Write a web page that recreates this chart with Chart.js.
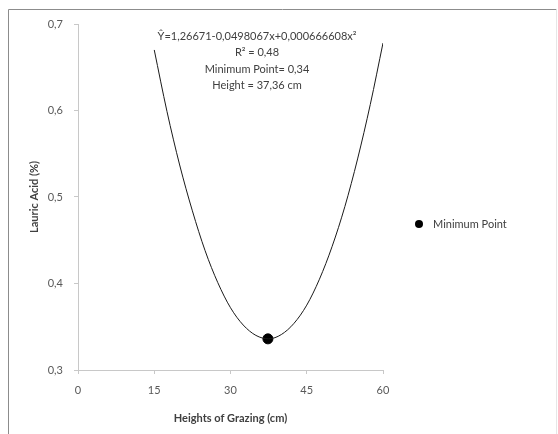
<!DOCTYPE html>
<html>
<head>
<meta charset="utf-8">
<script src="https://cdn.jsdelivr.net/npm/chart.js@4"></script>
<style>
  html, body { margin: 0; padding: 0; background: #fff; }
  #wrap { width: 558px; height: 434px; }
</style>
</head>
<body>
<div id="wrap"><canvas id="chart" width="558" height="434"></canvas></div>
<script>
// Curve (heights of grazing, cm -> lauric acid, %)
const heights = [15, 17.5, 20, 22.5, 25, 27.5, 30, 32.5, 35, 37.5, 40, 42.5, 45, 47.5, 50, 52.5, 55, 57.5, 60];
const lauric = [0.670, 0.599, 0.537, 0.484, 0.438, 0.401, 0.372, 0.352, 0.340, 0.336, 0.341, 0.354, 0.375, 0.405, 0.443, 0.489, 0.544, 0.607, 0.678];

// Minimum point
const minX = [37.36];
const minY = [0.336];

const xTicks = [0, 15, 30, 45, 60];
const equationLines = [
  "Ŷ=1,26671-0,0498067x+0,000666608x²",
  "R² = 0,48",
  "Minimum Point= 0,34",
  "Height = 37,36 cm"
];

const FONT = "Lato, 'Open Sans', sans-serif";

// frame, equation text and legend
const extras = {
  id: 'extras',
  beforeDraw(chart) {
    const ctx = chart.ctx;
    ctx.save();
    ctx.lineWidth = 1;
    ctx.strokeStyle = '#8c8c8c';
    ctx.beginPath();
    ctx.moveTo(8.5, 440);
    ctx.lineTo(8.5, 9.5);
    ctx.lineTo(556.5, 9.5);
    ctx.stroke();
    ctx.strokeStyle = '#e6e6e6';
    ctx.beginPath();
    ctx.moveTo(556.5, 9.5);
    ctx.lineTo(556.5, 440);
    ctx.stroke();
    ctx.restore();
  },
  afterDraw(chart) {
    const ctx = chart.ctx;
    ctx.save();
    ctx.fillStyle = '#404040';
    ctx.font = '11px ' + FONT;
    ctx.textAlign = 'center';
    ctx.textBaseline = 'middle';
    equationLines.forEach((t, i) => ctx.fillText(t, 257, 36 + i * 16.5));

    // legend
    ctx.fillStyle = '#000';
    ctx.beginPath();
    ctx.arc(419, 224, 4, 0, Math.PI * 2);
    ctx.fill();
    ctx.fillStyle = '#404040';
    ctx.textAlign = 'left';
    ctx.fillText('Minimum Point', 433, 224);
    ctx.restore();
  }
};

new Chart(document.getElementById('chart'), {
  type: 'scatter',
  data: {
    datasets: [
      {
        label: 'Curve',
        data: heights.map((h, i) => ({ x: h, y: lauric[i] })),
        showLine: true,
        borderColor: '#1a1a1a',
        borderWidth: 1,
        pointRadius: 0,
        cubicInterpolationMode: 'monotone'
      },
      {
        label: 'Minimum Point',
        data: minX.map((h, i) => ({ x: h, y: minY[i] })),
        backgroundColor: '#000',
        borderColor: '#000',
        pointRadius: 5
      }
    ]
  },
  options: {
    responsive: false,
    animation: false,
    layout: { padding: { left: 0, right: 175, top: 24, bottom: 0 } },
    plugins: { legend: { display: false }, tooltip: { enabled: false } },
    scales: {
      x: {
        type: 'linear',
        min: 0,
        max: 60,
        afterBuildTicks(s) { s.ticks = xTicks.map(v => ({ value: v })); },
        afterFit(s) { s.height = 64; },
        border: { color: '#c8c8c8', width: 1 },
        grid: { drawOnChartArea: false, drawTicks: true, tickLength: 4, color: '#c8c8c8' },
        ticks: { color: '#595959', font: { family: FONT, size: 11 }, padding: 10, maxRotation: 0 },
        title: {
          display: true,
          text: 'Heights of Grazing (cm)',
          color: '#404040',
          font: { family: FONT, size: 11, weight: 'bold' },
          padding: { top: 0, bottom: 9 }
        }
      },
      y: {
        min: 0.3,
        max: 0.7,
        ticks: {
          stepSize: 0.1,
          color: '#595959',
          font: { family: FONT, size: 11 },
          padding: 11,
          callback: v => v.toFixed(1).replace('.', ',')
        },
        afterFit(s) { s.width = 78; },
        border: { color: '#c8c8c8', width: 1 },
        grid: { drawOnChartArea: false, drawTicks: true, tickLength: 4, color: '#c8c8c8' },
        title: {
          display: true,
          text: 'Lauric Acid (%)',
          color: '#404040',
          font: { family: FONT, size: 11, weight: 'bold' },
          padding: { top: 28, bottom: 0 }
        }
      }
    }
  },
  plugins: [extras]
});
</script>
</body>
</html>
